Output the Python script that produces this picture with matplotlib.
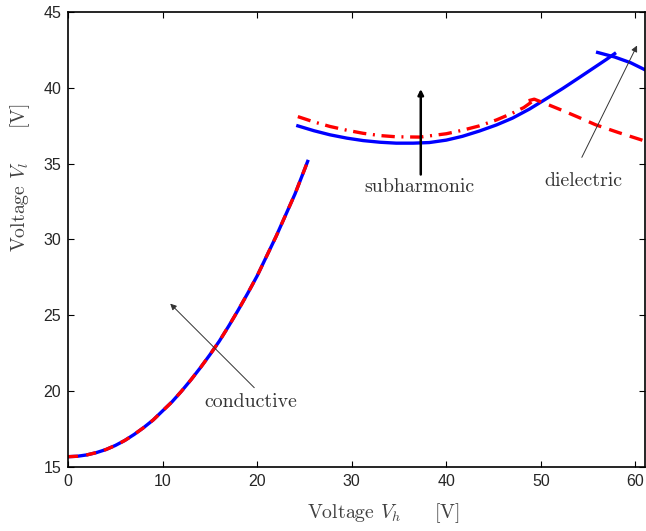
import matplotlib
matplotlib.use('Agg')
import matplotlib.pyplot as plt

# conductive branch
cond_x = [0, 1, 2, 3, 4, 5, 6, 7, 8, 9, 10, 11, 12, 13, 14, 15, 16, 17, 18, 19, 20,
          21, 22, 23, 24, 25, 25.4]
cond_y = [15.68, 15.71, 15.8, 15.95, 16.15, 16.42, 16.75, 17.15, 17.6, 18.1, 18.7,
          19.3, 20.0, 20.75, 21.55, 22.4, 23.3, 24.3, 25.35, 26.45, 27.6, 28.9, 30.2,
          31.6, 33.0, 34.6, 35.25]

# subharmonic branch
sub_blue_x = [24.3, 26.0, 27.7, 29.5, 31.2, 33.0, 34.7, 36.5, 38.2, 40.0, 41.7, 43.5,
              45.3, 47.0, 48.8, 50.5, 52.3, 54.0, 55.8, 57.0, 57.8]
sub_blue_y = [37.49, 37.17, 36.9, 36.68, 36.52, 36.41, 36.35, 36.35, 36.39, 36.55,
              36.8, 37.15, 37.55, 38.0, 38.6, 39.25, 39.95, 40.65, 41.4, 41.9, 42.25]
sub_red_x = [24.3, 26.0, 27.7, 29.5, 31.2, 33.0, 34.7, 37.2, 40.0, 41.7, 43.5, 45.3,
             47.0, 48.2, 49.1]
sub_red_y = [38.1, 37.75, 37.45, 37.2, 37.0, 36.85, 36.77, 36.75, 36.97, 37.2, 37.49,
             37.88, 38.33, 38.7, 39.1]

# dielectric branch
diel_blue_x = [56.0, 57.8, 59.5, 61.0]
diel_blue_y = [42.33, 42.03, 41.65, 41.19]
diel_red_x = [48.7, 49.3, 50.8, 52.3, 54.0, 55.8, 58.2, 60.6, 61.0]
diel_red_y = [39.15, 39.25, 38.88, 38.5, 38.05, 37.56, 37.05, 36.57, 36.48]

plt.rcParams['mathtext.fontset'] = 'cm'

fig = plt.figure(figsize=(6.46, 5.31), dpi=100)
ax = fig.add_axes([0.1053, 0.1205, 0.893, 0.857])

blue = '#0000ff'
red = '#ff0000'
lw = 2.4

ax.plot(cond_x, cond_y, color=blue, lw=lw, solid_capstyle='butt')
ax.plot(cond_x, cond_y, color=red, lw=lw, ls=(0, (3, 2.5)))

ax.plot(sub_blue_x, sub_blue_y, color=blue, lw=lw)
ax.plot(sub_red_x, sub_red_y, color=red, lw=lw, ls=(0, (4, 2, 0.6, 2)))

ax.plot(diel_blue_x, diel_blue_y, color=blue, lw=lw)
ax.plot(diel_red_x, diel_red_y, color=red, lw=lw, ls=(0, (4, 2.5)))

# annotations
txt = dict(family='cmr10', fontsize=14.3, color='#333333', ha='center', va='center')

ax.annotate('', xy=(10.6, 25.9), xytext=(19.9, 20.1),
            arrowprops=dict(arrowstyle='-|>', color='#333333', lw=0.7, mutation_scale=9))
ax.text(19.3, 19.3, 'conductive', **txt)

ax.annotate('', xy=(37.3, 40.1), xytext=(37.3, 34.1),
            arrowprops=dict(arrowstyle='-|>', color='black', lw=1.8, mutation_scale=8))
ax.text(37.2, 33.45, 'subharmonic', **txt)

ax.annotate('', xy=(60.3, 42.95), xytext=(54.2, 35.25),
            arrowprops=dict(arrowstyle='-|>', color='#333333', lw=0.7, mutation_scale=9))
ax.text(54.5, 33.85, 'dielectric', **txt)

ax.set_xlim(0, 61)
ax.set_ylim(15, 45)
ax.set_xticks([0, 10, 20, 30, 40, 50, 60])
ax.set_yticks([15, 20, 25, 30, 35, 40, 45])

ax.tick_params(direction='in', top=True, right=True, length=4, width=0.8,
               labelsize=11.5, labelcolor='#262626', pad=5)
for lab in ax.get_xticklabels() + ax.get_yticklabels():
    lab.set_family('Liberation Sans')
for sp in ax.spines.values():
    sp.set_linewidth(1.2)

# axis labels, placed where the original has them
fig.text(383 / 646, 1 - 513 / 531, 'Voltage $V_h$     [V]', family='cmr10', fontsize=14.3,
         color='#404040', ha='center', va='center')
fig.text(20 / 646, 1 - 178 / 531, 'Voltage $V_l$     [V]', family='cmr10', fontsize=14.3,
         color='#404040', ha='center', va='center', rotation=90)

fig.savefig('out.png', dpi=100)
